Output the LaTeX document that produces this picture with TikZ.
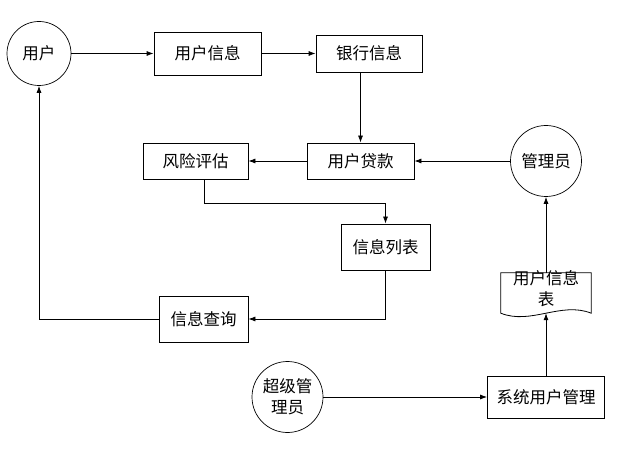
\documentclass[tikz,border=0pt]{standalone}
\usepackage{fontspec}
\setmainfont{Noto Sans CJK SC}
\usetikzlibrary{arrows.meta,calc}
\begin{document}
\begin{tikzpicture}[x=1pt,y=-1pt,
  every node/.style={font=\fontsize{16.5}{21}\selectfont},
  box/.style={draw, line width=0.8pt, inner sep=0pt},
  circ/.style={draw, circle, line width=0.7pt, inner sep=0pt},
  conn/.style={line width=0.8pt, -{Latex[length=7pt,width=5pt]}},
  plain/.style={line width=0.8pt}]
\useasboundingbox (0,0) rectangle (635,449);
\node[circ, minimum size=64pt] (u) at (39,53.5) {用户};
\node[box, minimum width=107pt, minimum height=43pt] (info) at (207.5,53.5) {用户信息};
\node[box, minimum width=106pt, minimum height=37pt] (bank) at (369,53.5) {银行信息};
\node[box, minimum width=107pt, minimum height=36pt] (loan) at (360.5,161) {用户贷款};
\node[box, minimum width=105pt, minimum height=36pt] (risk) at (195.5,161) {风险评估};
\node[circ, minimum size=71pt] (admin) at (546,161) {管理员};
\node[box, minimum width=89pt, minimum height=46pt] (list) at (385.5,247) {信息列表};
\node[box, minimum width=89pt, minimum height=46pt] (query) at (203.5,319) {信息查询};
\node[box, minimum width=117pt, minimum height=42pt] (sys) at (546,397) {系统用户管理};
\node[circ, minimum size=71pt, align=center] (super) at (287.5,397) {超级管\\理员};
% document shape
\node[minimum width=90pt, minimum height=40pt, inner sep=0pt] (doc) at (546,293) {};
\draw[line width=0.8pt] (doc.north west) -- (doc.north east) -- (doc.south east)
  .. controls ($(doc.south east)+(-30,-12)$) and ($(doc.south west)+(30,12)$) .. (doc.south west) -- cycle;
\node[align=center, inner sep=0pt] (doctext) at (546,289) {用户信息\\表};
% connectors
\draw[conn] (u.east) -- (info.west);
\draw[conn] (info.east) -- (bank.west);
\draw[conn] (loan.north |- bank.south) -- (loan.north);
\draw[conn] (admin.west) -- (loan.east);
\draw[conn] (loan.west) -- (risk.east);
\draw[conn] ([xshift=8.5pt]risk.south) -- ++(0,24) -| (list.north);
\draw[conn] (list.south) |- (query.east);
\draw[conn] (query.west) -| (u.south);
\draw[conn] (super.east) -- (sys.west);
\draw[conn] (sys.north) -- (doc.south);
\draw[conn] (doc.north) -- (admin.south);
\end{tikzpicture}
\end{document}
